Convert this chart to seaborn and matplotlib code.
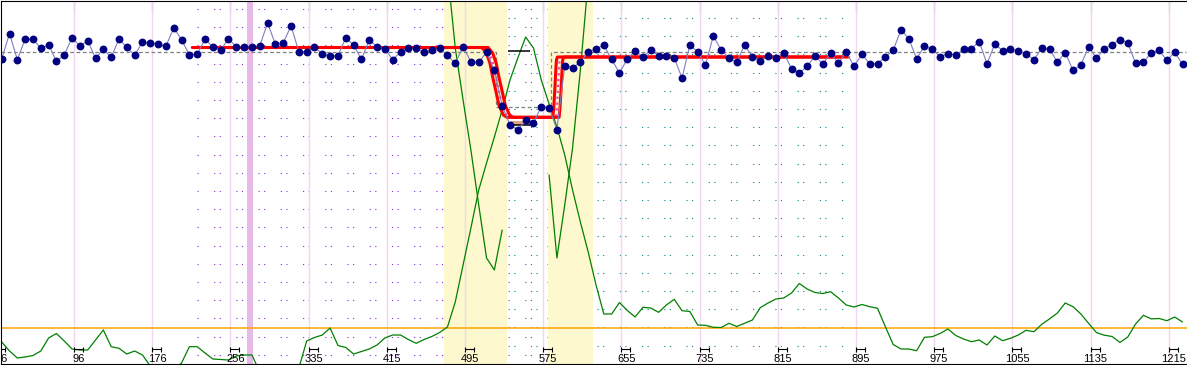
import numpy as np
import matplotlib
matplotlib.use('Agg')
from matplotlib import pyplot as plt
import seaborn as sns

sns.set_style('white')
plt.rcParams['font.family'] = ['Liberation Sans', 'DejaVu Sans']

## values (vertical unit: 0 = top edge, 363 = bottom edge)
measure = [58.7, 33.7, 59.7, 39, 39.3, 48.3, 44.7, 61.3, 55, 37.7,
           46, 40.7, 58.3, 49.3, 57.3, 39, 47.3, 55.3, 42, 43,
           44, 46.3, 27.7, 39.7, 54.7, 54, 39.3, 47, 50, 38.7,
           46.7, 47, 46.7, 46, 23, 44.3, 43.3, 25.7, 51.7, 51.7,
           47, 54, 56, 55.7, 37.7, 45, 59.3, 40, 46.7, 48.7,
           59.7, 52, 48.3, 48.3, 52.3, 49.7, 48.3, 55.3, 63.3, 46.7,
           61.7, 62.3, 52.3, 70.3, 105.7, 125, 130, 120, 123.3, 106.5,
           107.5, 129.7, 65.7, 67.7, 62.3, 52, 48.7, 45.3, 59.3, 73,
           59, 51, 56.7, 50, 55.7, 55.7, 58, 78, 45, 52,
           65, 36, 50, 58, 62.3, 45, 56.7, 61, 56, 57.7,
           52.7, 68.7, 73, 66.3, 56, 64, 53.3, 63, 52, 66.3,
           54.3, 63.7, 63.7, 56.7, 50.3, 29.7, 38.7, 58.7, 46.3, 49.3,
           56.7, 53.7, 55, 49.3, 48.7, 41.7, 63.7, 44, 50.7, 49.3,
           51, 53.7, 59.7, 48, 49.3, 62, 52.7, 70.3, 65, 46.7,
           58.3, 48.7, 44.7, 39.7, 42.7, 63.3, 62.3, 52.7, 50.3, 60.3,
           52.3, 64.3]

# detection statistic (green), one value per sample
stat = [342, 351, 358, 357, 355.5, 351, 338, 333.5, 341, 349,
        350, 350, 340, 330, 346.7, 348.3, 354, 351, 355, 366,
        370, 372, 370, 363, 346.7, 346.7, 353, 359, 359.5, 360,
        356, 355, 355, 372, 375, 378, 378, 375, 368, 341,
        337.5, 335, 328, 345.5, 347.5, 354, 351.5, 349, 345, 338,
        335, 335, 339.5, 343.3, 339.5, 336.5, 332.5, 327, 302, 265,
        228, 190, 163, 137, 110, 80, 58, 37, 48, 80,
        104, 127, 155, 190, 222, 252, 285, 314, 314, 302.5,
        310.5, 317, 307.3, 308, 312.3, 305, 299.3, 310.7, 311.5, 325,
        325.3, 327.3, 327.5, 323.3, 326.5, 323.3, 320, 307.7, 303, 299,
        298, 293, 283.5, 289, 292.5, 293.5, 291.7, 298, 305, 307,
        304.5, 306.7, 308.3, 326.7, 344.5, 349, 349, 350.7, 337.3, 336.7,
        333.5, 329, 335.5, 339, 341.7, 340, 345, 336, 340.7, 338.3,
        335, 330.3, 331.7, 324.3, 318.9, 313, 303, 306.7, 314, 323.4,
        332.6, 335.2, 336.5, 342.5, 337, 324, 315.3, 318.9, 318.5, 320.7,
        317, 322]

# statistic traces started at each change point
statB_idx = [57, 58, 59, 60, 61, 62, 63, 64]
statB = [-30, 48, 100, 150, 205, 258, 270, 230]
statC_idx = [70, 71, 72, 73, 74, 75]
statC = [175, 258, 205, 148, 70, -20]

threshold = 328.3

# fitted step model (centre) and its band
fit_x = [24.77, 61.80, 62.38, 62.83, 63.21, 63.62, 63.98, 64.55, 65.00,
         70.88, 71.01, 71.14, 71.27, 71.34, 71.46, 107.86]
fit_y = [47.5, 47.5, 53, 63, 78, 92, 105, 115, 117.3,
         117.3, 106, 88, 68, 60, 57, 57]
fit_band = 0.4

# segment means (dashed step)
seg_x = [-0.15, 63.21, 70.24, 151.5]
seg_y = [51.5, 106.5, 51.5, 51.5]

change_spans = [(56.56, 64.65), (69.9, 75.65)]
marked_span = (31.37, 32.14)

grid_pos = [9.25, 19.25, 29.25, 39.25, 49.25, 59.25, 69.25, 79.25,
            89.25, 99.25, 109.25, 119.25, 129.25, 139.25, 149.25]
tick_labels = ['6', '96', '176', '256', '335', '415', '495', '575', '655',
               '735', '815', '895', '975', '1055', '1135', '1215']

idx = np.arange(len(measure))

fig = plt.figure(figsize=(11.87, 3.65), dpi=100)
ax = fig.add_axes([0.5 / 1187, 1.5 / 365, 1186 / 1187, 363 / 365])
ax.set_xlim(-0.1535, 151.51)
ax.set_ylim(363.5, 0.5)

# background dot pattern for the two stable segments
ax.hlines([9 + 18.2 * k for k in range(20)], 24.97, 69.9, colors='#8a2be2',
          linewidth=0.8, linestyles=(0, (1, 14, 1, 4)), zorder=0.8)
ax.hlines([18 + 18.2 * k for k in range(19)], 61.88, 107.65, colors='#008b8b',
          linewidth=0.8, linestyles=(0, (1, 4, 1, 14)), zorder=0.8)

for a, b in change_spans:
    ax.axvspan(a, b, color='#fdf8cd', lw=0, zorder=1)
ax.axvspan(*marked_span, color='#e8b8e8', lw=0, zorder=1)
ax.vlines(grid_pos, 0, 363.5, colors='#f0d6f0', lw=1, zorder=1.5)

ax.axhline(threshold, color='#ffa500', lw=1.1, zorder=2)
ax.plot(seg_x, seg_y, drawstyle='steps-post', color='#808080', lw=0.9,
        linestyle=(0, (3, 2)), zorder=2)

sns.lineplot(x=idx, y=stat, color='#008000', lw=0.9, sort=False,
             errorbar=None, ax=ax, zorder=2.5)
sns.lineplot(x=statB_idx, y=statB, color='#008000', lw=0.9, sort=False,
             errorbar=None, ax=ax, zorder=2.5)
sns.lineplot(x=statC_idx, y=statC, color='#008000', lw=0.9, sort=False,
             errorbar=None, ax=ax, zorder=2.5)

# low segment markers
ax.fill_between([65.1, 67.6], 120.5, 125, color='#e8a080', lw=0, zorder=2.7)
ax.hlines([124.5], 65.2, 67.6, colors='black', lw=1.1, zorder=2.8)
ax.hlines([51], 64.74, 67.56, colors='black', lw=1.1, zorder=2.8)

fx = np.array(fit_x)
ax.plot(fx, fit_y, color='#ff40b0', lw=1.6, linestyle=':', zorder=3)
ax.plot(fx - fit_band, fit_y, color='red', lw=2.2, zorder=3.2)
ax.plot(fx + fit_band, fit_y, color='red', lw=2.2, zorder=3.2)

sns.lineplot(x=idx, y=measure, color='#7f7fc0', lw=0.8, sort=False,
             errorbar=None, ax=ax, zorder=4)
sns.scatterplot(x=idx, y=measure, color='#000080', s=32, linewidth=0,
                ax=ax, zorder=5)

# bottom brackets and labels
bracket_pos = [g - 10 for g in grid_pos[:1]] + grid_pos
ax.errorbar([g + 0.575 for g in bracket_pos], [348.5] * len(bracket_pos),
            xerr=0.575, fmt='none', ecolor='black', elinewidth=0.8,
            capsize=1.8, capthick=0.8, zorder=6)
label_pos = [0.17] + [g + 0.62 for g in grid_pos]
for pos, lab in zip(label_pos, tick_labels):
    ax.text(pos, 362, lab, ha='center', va='baseline', fontsize=8,
            color='black', zorder=7)

ax.set_xticks(grid_pos)
ax.set_yticks([])
ax.tick_params(axis='x', which='major', direction='in', top=True,
               bottom=False, labelbottom=False, length=7.2, width=0.8,
               color='black')
for side in ['left', 'top', 'bottom']:
    ax.spines[side].set_color('black')
    ax.spines[side].set_linewidth(0.8)
ax.spines['right'].set_visible(False)
ax.set_xlabel('')
ax.set_ylabel('')

fig.savefig('out.png', dpi=100)
